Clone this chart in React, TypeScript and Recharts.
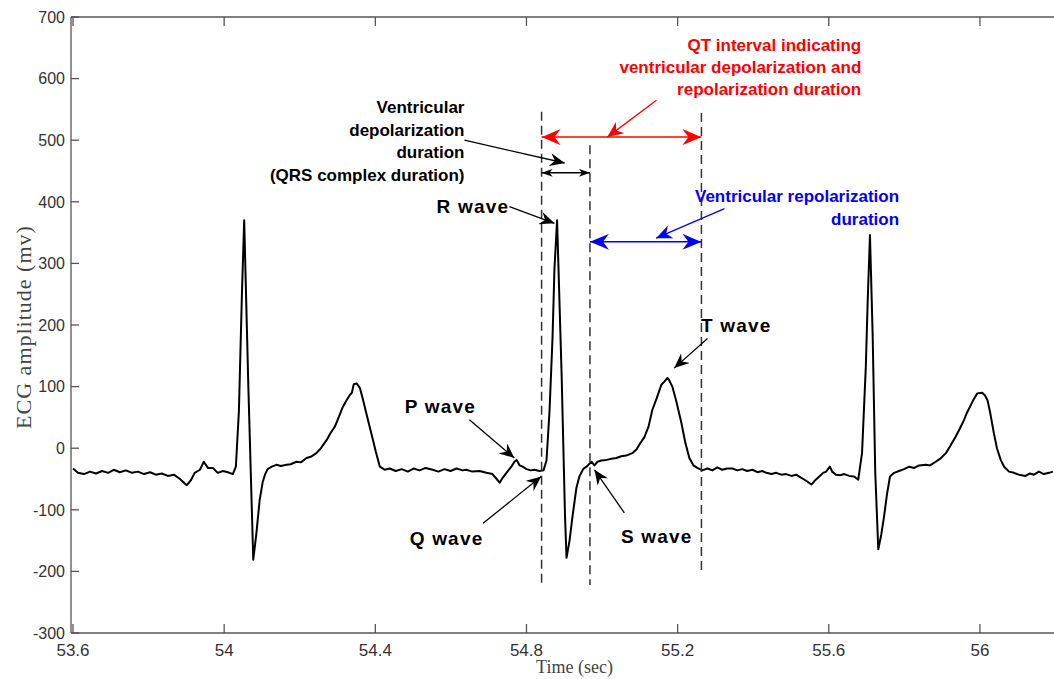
import React from 'react';
import { LineChart, Line, XAxis, YAxis, ReferenceLine, ReferenceDot } from 'recharts';

// ---------- data ----------
const timeSec = [
  53.600, 53.613, 53.629, 53.645, 53.661, 53.677, 53.693, 53.708, 53.724, 53.740,
  53.756, 53.772, 53.788, 53.804, 53.819, 53.835, 53.851, 53.867, 53.883, 53.901,
  53.912, 53.922, 53.936, 53.946, 53.957, 53.970, 53.983, 53.997, 54.010, 54.023,
  54.031, 54.039, 54.047, 54.053, 54.064, 54.077, 54.085, 54.094, 54.102, 54.108,
  54.115, 54.126, 54.138, 54.150, 54.165, 54.176, 54.191, 54.203, 54.218, 54.229,
  54.244, 54.256, 54.271, 54.282, 54.293, 54.303, 54.314, 54.324, 54.332, 54.338,
  54.343, 54.351, 54.359, 54.367, 54.376, 54.385, 54.394, 54.401, 54.412, 54.425,
  54.438, 54.454, 54.470, 54.486, 54.501, 54.517, 54.533, 54.552, 54.567, 54.583,
  54.599, 54.615, 54.631, 54.641, 54.657, 54.676, 54.694, 54.710, 54.721, 54.729,
  54.737, 54.747, 54.760, 54.768, 54.774, 54.782, 54.790, 54.800, 54.811, 54.821,
  54.834, 54.845, 54.853, 54.861, 54.869, 54.874, 54.881, 54.893, 54.902, 54.906,
  54.914, 54.922, 54.932, 54.940, 54.951, 54.959, 54.967, 54.972, 54.980, 54.988,
  54.998, 55.012, 55.025, 55.038, 55.051, 55.064, 55.080, 55.091, 55.101, 55.112,
  55.123, 55.133, 55.144, 55.157, 55.165, 55.173, 55.178, 55.186, 55.197, 55.210,
  55.220, 55.231, 55.242, 55.252, 55.265, 55.279, 55.292, 55.305, 55.318, 55.331,
  55.345, 55.358, 55.371, 55.384, 55.398, 55.411, 55.424, 55.435, 55.448, 55.461,
  55.474, 55.487, 55.501, 55.514, 55.522, 55.538, 55.554, 55.564, 55.575, 55.585,
  55.593, 55.603, 55.609, 55.619, 55.630, 55.641, 55.654, 55.667, 55.678, 55.688,
  55.698, 55.703, 55.709, 55.716, 55.723, 55.731, 55.739, 55.746, 55.754, 55.762,
  55.773, 55.786, 55.799, 55.813, 55.826, 55.839, 55.857, 55.868, 55.883, 55.895,
  55.910, 55.921, 55.936, 55.947, 55.958, 55.966, 55.976, 55.984, 55.993, 56.006,
  56.013, 56.020, 56.027, 56.037, 56.045, 56.055, 56.064, 56.077, 56.090, 56.103,
  56.121, 56.132, 56.143, 56.156, 56.169, 56.183, 56.193,
];
const ecgMv = [
  -33, -40, -42, -38, -41, -37, -40, -35, -39, -36,
  -40, -38, -42, -39, -43, -41, -45, -43, -50, -60,
  -52, -40, -35, -22, -32, -32, -40, -37, -39, -42,
  -30, 60, 250, 370, 100, -181, -140, -84, -55, -43,
  -34, -30, -27, -29, -27, -26, -22, -23, -16, -14,
  -8, 0, 13, 25, 35, 50, 67, 78, 86, 90,
  104, 105, 98, 80, 57, 35, 13, -5, -30, -35,
  -33, -37, -34, -38, -33, -36, -32, -35, -38, -34,
  -37, -33, -36, -35, -38, -37, -40, -42, -50, -56,
  -48, -40, -30, -22, -19, -28, -30, -34, -36, -35,
  -37, -36, -20, 60, 180, 290, 370, 120, -110, -178,
  -150, -110, -65, -46, -33, -30, -25, -22, -28, -22,
  -20, -19, -17, -16, -13, -12, -8, -2, 8, 18,
  35, 62, 80, 103, 108, 114, 110, 100, 75, 41,
  10, -16, -28, -32, -36, -33, -36, -31, -35, -33,
  -33, -36, -34, -37, -35, -39, -37, -40, -42, -40,
  -43, -42, -45, -43, -46, -52, -59, -52, -46, -40,
  -38, -30, -38, -43, -44, -42, -45, -46, -51, -8,
  132, 240, 346, 187, -40, -164, -140, -112, -75, -46,
  -40, -37, -34, -30, -32, -28, -27, -28, -22, -17,
  -8, 3, 19, 32, 46, 58, 70, 80, 89, 90,
  86, 78, 58, 24, 0, -19, -30, -38, -40, -43,
  -45, -41, -43, -38, -42, -40, -38,
];

const xTicks = [53.6, 54, 54.4, 54.8, 55.2, 55.6, 56];
const yTicks = [-300, -200, -100, 0, 100, 200, 300, 400, 500, 600, 700];
const X_MIN = 53.5947;
const X_MAX = 56.196;
const Y_MIN = -300;
const Y_MAX = 700;

// dashed boundaries: QRS onset, QRS end, T end
const boundaryTimes = [54.84, 54.968, 55.263];
const boundaryTop = [546, 492, 544];
const boundaryBottom = [-219, -222, -206];

// double-headed intervals: QT, QRS, repolarization
const intervalStart = [54.84, 54.84, 54.968];
const intervalEnd = [55.263, 54.968, 55.263];
const intervalLevel = [505, 447, 335];

// single pointer arrows (from -> to)
const pointerFromT = [55.144, 54.636, 55.324, 54.755, 54.649, 54.685, 55.059, 55.279];
const pointerFromV = [565, 500, 389, 392, 46, -122, -105, 178];
const pointerToT = [55.014, 54.901, 55.143, 54.874, 54.768, 54.839, 54.980, 55.191];
const pointerToV = [505, 463, 341, 365, -16, -46, -35, 130];

// annotation texts (anchor at first baseline)
const labelLines = [
  ['QT interval indicating', 'ventricular depolarization and', 'repolarization duration'],
  ['Ventricular', 'depolarization', 'duration', '(QRS complex duration)'],
  ['Ventricular repolarization', 'duration'],
  ['R wave'],
  ['P wave'],
  ['Q wave'],
  ['S wave'],
  ['T wave'],
];
const labelT = [55.686, 54.636, 55.786, 54.562, 54.478, 54.491, 55.05, 55.262];
const labelV = [645, 544, 400, 382, 57, -157, -154, 189];

// ---------- layout & styles ----------
const CHART_W = 1054;
const CHART_H = 679;
const MARGIN_TOP = 17;
const X_AXIS_H = 46;
const Y_AXIS_W = 71;
const PLOT_W = CHART_W - Y_AXIS_W;
const PLOT_H = CHART_H - MARGIN_TOP - X_AXIS_H;
const TICK_LEN = 9;

const RED = '#ff0000';
const BLUE = '#0000ff';
const BLACK = '#000000';
const AXIS = '#555555';
const TICKTEXT = '#333333';
const intervalColors = [RED, BLACK, BLUE];
const intervalMarkers = ['arrRed', 'arrSmall', 'arrBlue'];
const pointerColors = [RED, BLACK, BLUE, BLACK, BLACK, BLACK, BLACK, BLACK];
const pointerMarkers = ['arrRedP', 'arrBlack', 'arrBlueP', 'arrBlack', 'arrBlack', 'arrBlack', 'arrBlack', 'arrBlack'];
const labelColors = [RED, BLACK, BLUE, BLACK, BLACK, BLACK, BLACK, BLACK];
const labelAnchors = ['end', 'end', 'end', 'start', 'start', 'start', 'start', 'start'];
const labelSizes = [17, 17, 17, 19, 19, 19, 19, 19];
const labelSpacing = [22.3, 22.5, 23, 0, 0, 0, 0, 0];
const labelLetterSpacing = [0, 0, 0, 1.2, 1.2, 1.2, 1.2, 1.2];

const ecgData = timeSec.map((t, i) => ({ t, v: ecgMv[i] }));

const Marker = ({ id, color, len, wid, notch }: any) => (
  <marker
    id={id}
    viewBox={`0 0 ${len} ${wid}`}
    refX={len}
    refY={wid / 2}
    markerWidth={len}
    markerHeight={wid}
    markerUnits="userSpaceOnUse"
    orient="auto-start-reverse"
  >
    <path d={`M${len},${wid / 2} L0,0 L${notch},${wid / 2} L0,${wid} Z`} fill={color} />
  </marker>
);

// bottom-axis tick: inward tick, label, and the mirrored inward tick on the top frame
const XTick = (props: any) => {
  const { x, y, payload } = props;
  const topY = y - PLOT_H;
  return (
    <g>
      <line x1={x} y1={y} x2={x} y2={y - TICK_LEN} stroke={AXIS} strokeWidth={1.3} />
      <line x1={x} y1={topY} x2={x} y2={topY + TICK_LEN} stroke={AXIS} strokeWidth={1.3} />
      <text x={x} y={y + 23} textAnchor="middle" fontSize={17} fill={TICKTEXT} fontFamily="'Liberation Sans', Arial, sans-serif">
        {payload.value}
      </text>
    </g>
  );
};

// left-axis tick: inward tick and label; the top tick also draws the top frame line
const YTick = (props: any) => {
  const { x, y, payload } = props;
  return (
    <g>
      {payload.value === Y_MAX && (
        <line x1={x} y1={y} x2={x + PLOT_W} y2={y} stroke={AXIS} strokeWidth={1.3} />
      )}
      <line x1={x} y1={y} x2={x + TICK_LEN - 1} y2={y} stroke={AXIS} strokeWidth={1.3} />
      <text x={x - 6} y={y} dy="0.36em" textAnchor="end" fontSize={16} fill={TICKTEXT} fontFamily="'Liberation Sans', Arial, sans-serif">
        {payload.value}
      </text>
    </g>
  );
};

const YLabel = (props: any) => {
  const vb = props.viewBox || { x: 0, y: MARGIN_TOP, width: Y_AXIS_W, height: PLOT_H };
  const cx = vb.x + 23;
  const cy = vb.y + vb.height / 2 + 2;
  return (
    <text
      x={cx}
      y={cy}
      transform={`rotate(-90, ${cx}, ${cy})`}
      textAnchor="middle"
      dominantBaseline="central"
      fontSize={22}
      letterSpacing={1}
      fill="#444444"
      fontFamily="'Liberation Serif', 'Times New Roman', serif"
    >
      ECG amplitude (mv)
    </text>
  );
};

const XLabel = (props: any) => {
  const vb = props.viewBox || { x: Y_AXIS_W, y: MARGIN_TOP + PLOT_H, width: PLOT_W, height: X_AXIS_H };
  const cx = vb.x + vb.width / 2 + 12;
  return (
    <text
      x={cx}
      y={vb.y + 40}
      textAnchor="middle"
      fontSize={18}
      fill="#444444"
      fontFamily="'Liberation Serif', 'Times New Roman', serif"
    >
      Time (sec)
    </text>
  );
};

export default function App() {
  return (
    <div style={{ width: CHART_W, height: CHART_H, position: 'relative', background: '#fff' }}>
      <style>{'html,body{margin:0;padding:0;overflow:hidden;background:#fff}'}</style>
      <svg width={0} height={0} style={{ position: 'absolute' }}>
        <defs>
          <Marker id="arrRed" color={RED} len={19} wid={16} notch={6} />
          <Marker id="arrBlue" color={BLUE} len={19} wid={16} notch={6} />
          <Marker id="arrRedP" color={RED} len={16} wid={14} notch={5} />
          <Marker id="arrBlueP" color={BLUE} len={16} wid={14} notch={5} />
          <Marker id="arrBlack" color={BLACK} len={15} wid={13} notch={5} />
          <Marker id="arrSmall" color={BLACK} len={11} wid={8} notch={3} />
        </defs>
      </svg>
      <LineChart width={CHART_W} height={CHART_H} data={ecgData} margin={{ top: MARGIN_TOP, right: 0, bottom: 0, left: 0 }}>
        <XAxis
          dataKey="t"
          type="number"
          domain={[X_MIN, X_MAX]}
          allowDataOverflow
          ticks={xTicks}
          interval={0}
          height={X_AXIS_H}
          tickSize={0}
          tickMargin={0}
          tickLine={false}
          axisLine={{ stroke: AXIS, strokeWidth: 1.3 }}
          tick={<XTick />}
          label={<XLabel />}
        />
        <YAxis
          type="number"
          domain={[Y_MIN, Y_MAX]}
          allowDataOverflow
          ticks={yTicks}
          interval={0}
          width={Y_AXIS_W}
          tickSize={0}
          tickMargin={0}
          tickLine={false}
          axisLine={{ stroke: AXIS, strokeWidth: 1.3 }}
          tick={<YTick />}
          label={<YLabel />}
        />
        <Line
          dataKey="v"
          type="linear"
          stroke="#000000"
          strokeWidth={2}
          dot={false}
          activeDot={false}
          isAnimationActive={false}
          strokeLinejoin="round"
        />
        {boundaryTimes.map((t, i) => (
          <ReferenceLine
            key={`b${i}`}
            segment={[{ x: t, y: boundaryTop[i] }, { x: t, y: boundaryBottom[i] }]}
            stroke="#333333"
            strokeWidth={1.5}
            strokeDasharray="9 5"
          />
        ))}
        {intervalStart.map((s, i) => (
          <ReferenceLine
            key={`iv${i}`}
            segment={[{ x: s, y: intervalLevel[i] }, { x: intervalEnd[i], y: intervalLevel[i] }]}
            shape={(p: any) => (
              <line
                x1={p.x1}
                y1={p.y1}
                x2={p.x2}
                y2={p.y2}
                stroke={intervalColors[i]}
                strokeWidth={1.5}
                markerStart={`url(#${intervalMarkers[i]})`}
                markerEnd={`url(#${intervalMarkers[i]})`}
              />
            )}
          />
        ))}
        {pointerFromT.map((ft, i) => (
          <ReferenceLine
            key={`p${i}`}
            segment={[{ x: ft, y: pointerFromV[i] }, { x: pointerToT[i], y: pointerToV[i] }]}
            shape={(p: any) => (
              <line
                x1={p.x1}
                y1={p.y1}
                x2={p.x2}
                y2={p.y2}
                stroke={pointerColors[i]}
                strokeWidth={1.3}
                markerEnd={`url(#${pointerMarkers[i]})`}
              />
            )}
          />
        ))}
        {labelLines.map((lines, i) => (
          <ReferenceDot
            key={`l${i}`}
            x={labelT[i]}
            y={labelV[i]}
            r={0}
            shape={(p: any) => (
              <text
                x={p.cx}
                y={p.cy}
                textAnchor={labelAnchors[i]}
                fontSize={labelSizes[i]}
                fontWeight="bold"
                letterSpacing={labelLetterSpacing[i]}
                fill={labelColors[i]}
                fontFamily="'Liberation Sans', Arial, sans-serif"
              >
                {lines.map((ln, j) => (
                  <tspan key={j} x={p.cx} dy={j === 0 ? 0 : labelSpacing[i]}>
                    {ln}
                  </tspan>
                ))}
              </text>
            )}
          />
        ))}
      </LineChart>
    </div>
  );
}
